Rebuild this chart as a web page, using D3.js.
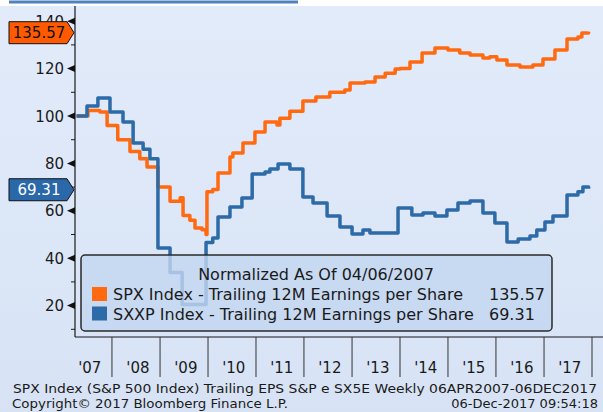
<!DOCTYPE html>
<html>
<head>
<meta charset="utf-8">
<script src="https://cdn.jsdelivr.net/npm/d3@7"></script>
<style>
  body { margin: 0; background: #fff; }
  svg { display: block; }
  text { font-family: "DejaVu Sans", Verdana, sans-serif; fill: #1a1a1a; }
</style>
</head>
<body>
<svg id="chart" width="603" height="412"></svg>
<script>
// values (normalized, 06 Apr 2007 = 100)
const spxDates = ["2007-04-06","2007-07-02","2007-10-01","2007-11-25","2008-02-14","2008-05-17","2008-07-31","2008-09-24","2008-12-16","2009-03-18","2009-06-03","2009-06-25","2009-08-16","2009-09-24","2009-11-16","2009-12-17","2009-12-24","2010-02-06","2010-03-18","2010-06-17","2010-07-09","2010-09-24","2010-12-24","2011-03-11","2011-06-10","2011-07-02","2011-09-16","2011-12-24","2012-04-01","2012-07-16","2012-11-07","2012-12-17","2013-04-10","2013-06-25","2013-09-10","2013-11-25","2014-01-01","2014-03-18","2014-06-18","2014-09-24","2015-01-01","2015-04-01","2015-06-18","2015-09-24","2015-11-16","2016-01-08","2016-03-25","2016-07-02","2016-10-08","2016-12-24","2017-03-25","2017-06-25","2017-09-16","2017-10-16","2017-12-06"];
const spxValues = [100,102.3,101.7,96,90,85,82,78.5,70,64,65.5,58,56,52.7,52,50,68,69,76,82.7,84.4,88.6,93.2,97.5,96.2,99,102,106.3,108,110,111,113.9,114.3,116.5,118,119.8,120,122.8,126.6,128.7,127.8,126.6,125.7,124.5,125,123.6,121.5,120.7,121.5,124,127.8,132.5,133.3,135,135.57];

const sxxpDates = ["2007-04-06","2007-06-25","2007-09-16","2007-12-17","2008-03-25","2008-06-10","2008-08-25","2008-10-16","2008-12-16","2009-03-18","2009-06-18","2009-12-17","2010-02-06","2010-03-18","2010-06-17","2010-09-16","2010-12-03","2011-03-11","2011-04-17","2011-06-18","2011-09-16","2011-12-24","2012-03-10","2012-06-25","2012-10-01","2013-01-01","2013-03-25","2013-05-17","2013-12-17","2014-04-01","2014-06-25","2014-09-24","2014-12-24","2015-03-18","2015-06-18","2015-09-24","2015-12-24","2016-03-25","2016-06-18","2016-09-16","2016-11-07","2017-01-08","2017-03-10","2017-06-25","2017-09-16","2017-10-24","2017-12-06"];
const sxxpValues = [100,104.2,107.6,101.7,97.5,88.6,86,82,44.3,34,20.5,46.6,48.5,57.4,61.6,65.4,75.5,76.4,77.6,79.7,77.6,65.8,63.3,57.8,53.2,50.2,51.9,50.6,61.2,58.2,59.1,57.8,60.3,63.3,64.1,59.1,54.8,46.8,48.1,49.4,51.9,55.3,57.8,66.7,68,70,69.31];

const yTicks = [20,40,60,80,100,120,140];
const yMinor = [10,30,50,70,90,110,130];
const years = [2007,2008,2009,2010,2011,2012,2013,2014,2015,2016,2017];
const yearLabels = ["'07","'08","'09","'10","'11","'12","'13","'14","'15","'16","'17"];

const seriesNames = ["SPX Index - Trailing 12M Earnings per Share","SXXP Index - Trailing 12M Earnings per Share"];
const lastValues = ["135.57","69.31"];
const colors = ["#ff6a10","#2d6aa8"];

const parse = d3.timeParse("%Y-%m-%d");
const spx = spxDates.map((d,i) => ({date: parse(d), value: spxValues[i]}));
const sxxp = sxxpDates.map((d,i) => ({date: parse(d), value: sxxpValues[i]}));

const svg = d3.select("#chart");

const defs = svg.append("defs");
const grad = defs.append("linearGradient").attr("id","bg").attr("x1",0).attr("y1",0).attr("x2",0).attr("y2",1);
grad.append("stop").attr("offset","0%").attr("stop-color","#e2ebfa");
grad.append("stop").attr("offset","100%").attr("stop-color","#d7e3f5");

svg.append("rect").attr("x",0).attr("y",6).attr("width",603).attr("height",406).attr("fill","url(#bg)");
svg.append("line").attr("x1",9).attr("x2",298).attr("y1",2).attr("y2",2)
  .attr("stroke","#4f81bd").attr("stroke-width",3);

const x = d3.scaleTime().domain([new Date(2007,0,1), new Date(2018,0,1)]).range([64,592]);
const y = d3.scaleLinear().domain([20,140]).range([305.6,21.2]);
const axisX = 75, axisY = 337;

// lines
const line = d3.line().x(d => x(d.date)).y(d => y(d.value)).curve(d3.curveStepAfter);
[spx, sxxp].forEach((s,i) => {
  svg.append("path").datum(s).attr("d", line)
    .attr("fill","none").attr("stroke",colors[i]).attr("stroke-width",3.5)
    .attr("stroke-linejoin","round");
});

// y axis
svg.append("line").attr("x1",axisX).attr("x2",axisX).attr("y1",6).attr("y2",axisY)
  .attr("stroke","#1a1a1a").attr("stroke-width",1.2);
svg.selectAll(".ymin").data(yMinor).enter().append("line")
  .attr("x1",axisX-4).attr("x2",axisX).attr("y1",d=>y(d)).attr("y2",d=>y(d))
  .attr("stroke","#1a1a1a");
svg.selectAll(".ytri").data(yTicks).enter().append("path")
  .attr("d", d => `M${axisX},${y(d)-3.5}L${axisX-8},${y(d)}L${axisX},${y(d)+3.5}Z`)
  .attr("fill","#111");
svg.selectAll(".ylab").data(yTicks).enter().append("text")
  .attr("x",64).attr("y",d=>y(d)+5.5).attr("text-anchor","end")
  .style("font-size","15px").text(d=>d);

// x axis
svg.append("line").attr("x1",axisX).attr("x2",603).attr("y1",axisY).attr("y2",axisY)
  .attr("stroke","#1a1a1a").attr("stroke-width",1.2);
svg.selectAll(".xtick").data(years.map(v=>v+1)).enter().append("line")
  .attr("x1",d=>x(new Date(d,0,1))).attr("x2",d=>x(new Date(d,0,1)))
  .attr("y1",axisY).attr("y2",377).attr("stroke","#333");
svg.selectAll(".xlab").data(years).enter().append("text")
  .attr("x",d=>x(new Date(d,6,1))+2).attr("y",373).attr("text-anchor","middle")
  .style("font-size","15px").text((d,i)=>yearLabels[i]);

// legend
const lg = svg.append("g");
lg.append("rect").attr("x",81).attr("y",255).attr("width",471).attr("height",76).attr("rx",4)
  .attr("fill","#c3d5f0").attr("fill-opacity",0.82).attr("stroke","#2a2a2a").attr("stroke-width",1.5);
lg.append("text").attr("x",316).attr("y",280).attr("text-anchor","middle")
  .style("font-size","16px").text("Normalized As Of 04/06/2007");
seriesNames.forEach((n,i) => {
  const yy = 300 + i*19.5;
  lg.append("rect").attr("x",92).attr("y",yy-13).attr("width",15).attr("height",14).attr("fill",colors[i]);
  lg.append("text").attr("x",113).attr("y",yy).style("font-size","16px").text(n);
  lg.append("text").attr("x",489).attr("y",yy).style("font-size","16px").text(lastValues[i]);
});

// last value tags
const tagFill = ["#ff5a00","#2a68aa"];
const tagText = ["#111","#fff"];
[135.57, 69.31].forEach((v,i) => {
  const cy = y(v) + 1;
  svg.append("path")
    .attr("d", `M9,${cy-11}L67,${cy-11}L74,${cy}L67,${cy+11}L9,${cy+11}Z`)
    .attr("fill",tagFill[i]).attr("stroke","#111").attr("stroke-width",1);
  svg.append("text").attr("x",39).attr("y",cy+5).attr("text-anchor","middle")
    .style("font-size","15px").style("fill",tagText[i]).text(lastValues[i]);
});

// footer
svg.append("text").attr("x",13).attr("y",393).attr("textLength",584).attr("lengthAdjust","spacingAndGlyphs")
  .style("font-size","13px").text("SPX Index (S&P 500 Index) Trailing EPS S&P e SX5E  Weekly 06APR2007-06DEC2017");
svg.append("text").attr("x",12).attr("y",408).attr("textLength",276).attr("lengthAdjust","spacingAndGlyphs")
  .style("font-size","13px").text("Copyright\u00a9 2017 Bloomberg Finance L.P.");
svg.append("text").attr("x",598).attr("y",408).attr("text-anchor","end")
  .style("font-size","13px").text("06-Dec-2017 09:54:18");
</script>
</body>
</html>
